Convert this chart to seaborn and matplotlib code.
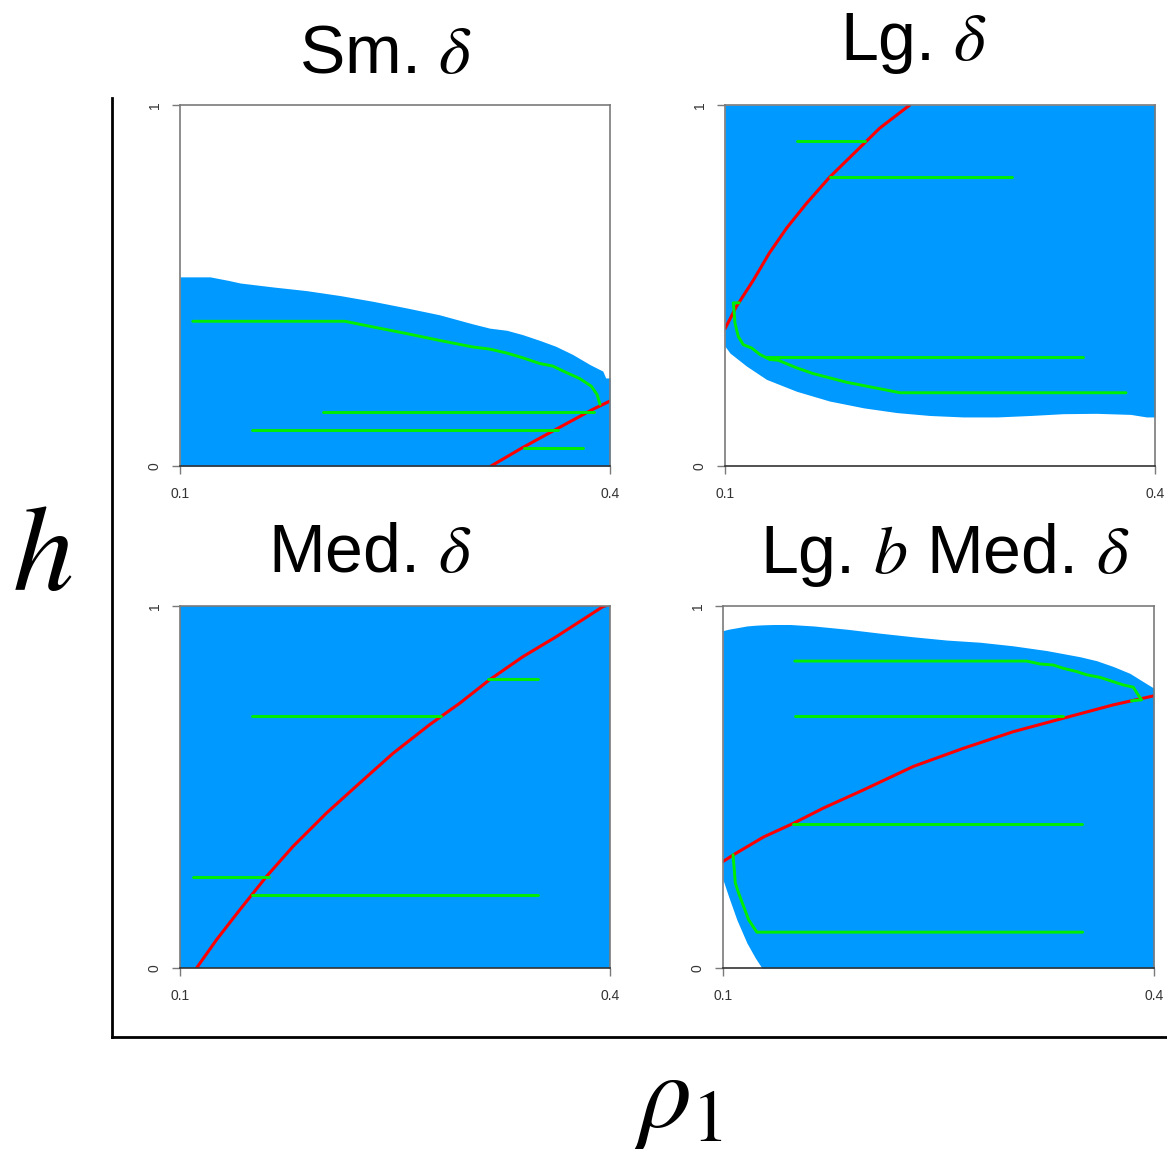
"""
Four-panel region chart: h against rho_1 for small, large and medium delta.
"""

import numpy as np
import pandas as pd
import matplotlib
matplotlib.use("Agg")
import matplotlib.pyplot as plt
import seaborn as sns

# -----------------------------
# Data
# -----------------------------

X_LIMITS = [0.1, 0.4]
Y_LIMITS = [0, 1]
X_TICKS = [0.1, 0.4]
Y_TICKS = [0, 1]
X_TICK_LABELS = ["0.1", "0.4"]
Y_TICK_LABELS = ["0", "1"]

TITLES = [r"Sm. $\delta$", r"Lg. $\delta$", r"Med. $\delta$", r"Lg. $b$ Med. $\delta$"]

# Small delta: blue region below an upper edge
SM_BLUE_X = [0.1, 0.121, 0.134, 0.142, 0.165, 0.188, 0.212, 0.235, 0.258, 0.281, 0.304,
             0.316, 0.328, 0.339, 0.351, 0.362, 0.374, 0.386, 0.395, 0.397, 0.4]
SM_BLUE_LOW = [0] * len(SM_BLUE_X)
SM_BLUE_TOP = [0.524, 0.524, 0.514, 0.507, 0.496, 0.486, 0.472, 0.456, 0.438, 0.419, 0.394,
               0.382, 0.376, 0.364, 0.348, 0.332, 0.309, 0.281, 0.263, 0.244, 0.244]
SM_RED_X = [0.317, 0.339, 0.362, 0.388, 0.4]
SM_RED_Y = [0.0, 0.051, 0.101, 0.157, 0.18]
SM_GREEN_X = [0.109, 0.215, 0.235, 0.258, 0.281, 0.304, 0.316, 0.328, 0.339, 0.351, 0.360,
              0.369, 0.379, 0.387, 0.391, 0.393]
SM_GREEN_Y = [0.401, 0.401, 0.385, 0.367, 0.348, 0.330, 0.324, 0.313, 0.300, 0.284, 0.277,
              0.260, 0.242, 0.221, 0.198, 0.171]
SM_SEG_Y = [0.151, 0.101, 0.051]
SM_SEG_X0 = [0.200, 0.150, 0.340]
SM_SEG_X1 = [0.389, 0.364, 0.381]

# Large delta: blue region above a lower edge
LG_BLUE_X = [0.1, 0.1035, 0.115, 0.129, 0.15, 0.173, 0.197, 0.22, 0.243, 0.266, 0.29,
             0.313, 0.336, 0.359, 0.383, 0.394, 0.4]
LG_BLUE_LOW = [0.332, 0.313, 0.277, 0.240, 0.207, 0.180, 0.161, 0.148, 0.140, 0.136, 0.136,
               0.140, 0.145, 0.146, 0.143, 0.136, 0.136]
LG_BLUE_TOP = [1] * len(LG_BLUE_X)
LG_RED_X = [0.1, 0.108, 0.12, 0.131, 0.143, 0.157, 0.173, 0.19, 0.208, 0.229]
LG_RED_Y = [0.38, 0.442, 0.516, 0.59, 0.659, 0.728, 0.8, 0.866, 0.936, 1.0]
LG_GREEN_X = [0.11, 0.1058, 0.1063, 0.107, 0.1093, 0.1128, 0.1186, 0.1244, 0.1314, 0.1372,
              0.15, 0.1616, 0.1733, 0.1849, 0.1965, 0.2081, 0.2221, 0.3798]
LG_GREEN_Y = [0.452, 0.452, 0.433, 0.396, 0.359, 0.336, 0.327, 0.309, 0.295, 0.293,
              0.272, 0.256, 0.244, 0.232, 0.223, 0.214, 0.203, 0.203]
LG_SEG_Y = [0.900, 0.800, 0.302]
LG_SEG_X0 = [0.150, 0.173, 0.129]
LG_SEG_X1 = [0.198, 0.300, 0.350]

# Medium delta: whole panel blue
MED_BLUE_X = [0.1, 0.4]
MED_BLUE_LOW = [0, 0]
MED_BLUE_TOP = [1, 1]
MED_RED_X = [0.1116, 0.1255, 0.1418, 0.1604, 0.1789, 0.2022, 0.2254, 0.2486, 0.2741, 0.295,
             0.3159, 0.3392, 0.3624, 0.3949, 0.4]
MED_RED_Y = [0.0, 0.078, 0.161, 0.253, 0.336, 0.428, 0.511, 0.593, 0.672, 0.731,
             0.796, 0.860, 0.915, 0.998, 1.005]
MED_GREEN_X = []
MED_GREEN_Y = []
MED_SEG_Y = [0.798, 0.696, 0.251, 0.201]
MED_SEG_X0 = [0.315, 0.150, 0.109, 0.150]
MED_SEG_X1 = [0.350, 0.282, 0.162, 0.350]

# Large b, medium delta: blue band between two edges
LGB_BLUE_X = [0.1, 0.1039, 0.1097, 0.1167, 0.1225, 0.1271, 0.1352, 0.1468, 0.1631, 0.1862,
              0.2094, 0.2326, 0.2558, 0.279, 0.3022, 0.3253, 0.3485, 0.3601, 0.3717, 0.3833,
              0.3926, 0.4]
LGB_BLUE_LOW = [0.244, 0.198, 0.133, 0.069, 0.028, 0, 0, 0, 0, 0,
                0, 0, 0, 0, 0, 0, 0, 0, 0, 0,
                0, 0]
LGB_BLUE_TOP = [0.932, 0.936, 0.940, 0.945, 0.947, 0.948, 0.949, 0.949, 0.945, 0.936,
                0.925, 0.915, 0.906, 0.900, 0.890, 0.877, 0.860, 0.849, 0.833, 0.814,
                0.791, 0.773]
LGB_RED_X = [0.1, 0.1074, 0.1283, 0.1492, 0.17, 0.1978, 0.2326, 0.2674, 0.3022, 0.3369,
             0.3717, 0.4]
LGB_RED_Y = [0.294, 0.313, 0.362, 0.400, 0.442, 0.492, 0.557, 0.607, 0.653, 0.690,
             0.727, 0.752]
LGB_GREEN_X = [0.15, 0.3114, 0.3207, 0.33, 0.3369, 0.3462, 0.3532, 0.3624, 0.3717, 0.3787,
               0.3856, 0.3891, 0.3914, 0.3844]
LGB_GREEN_Y = [0.848, 0.848, 0.840, 0.837, 0.828, 0.819, 0.810, 0.803, 0.791, 0.782,
               0.776, 0.754, 0.741, 0.738]
LGB_GREEN2_X = [0.107, 0.1079, 0.1086, 0.1109, 0.1144, 0.1179, 0.1236, 0.3504]
LGB_GREEN2_Y = [0.313, 0.271, 0.235, 0.207, 0.170, 0.133, 0.099, 0.099]
LGB_SEG_Y = [0.696, 0.398]
LGB_SEG_X0 = [0.150, 0.149]
LGB_SEG_X1 = [0.337, 0.350]

# -----------------------------
# Style
# -----------------------------

BLUE = "#0099ff"
RED = "#ff0000"
GREEN = "#00ee00"
FRAME = "#7a7a7a"
TICK_TEXT = "#333333"

sns.set_theme(style="white")
plt.rcParams["font.family"] = ["Liberation Sans", "DejaVu Sans"]
plt.rcParams["mathtext.fontset"] = "stix"
plt.rcParams["text.color"] = "black"


def green_paths(curves, seg_y, seg_x0, seg_x1) -> pd.DataFrame:
    """Long-form table of every green path, one 'seg' id per path."""
    rows = []
    seg = 0
    for xs, ys in curves:
        if len(xs) == 0:
            continue
        for x, y in zip(xs, ys):
            rows.append({"seg": seg, "x": x, "y": y})
        seg += 1
    for y, x0, x1 in zip(seg_y, seg_x0, seg_x1):
        rows.append({"seg": seg, "x": x0, "y": y})
        rows.append({"seg": seg, "x": x1, "y": y})
        seg += 1
    return pd.DataFrame(rows)


def draw_panel(ax, blue_x, blue_low, blue_top, red_x, red_y, green_df) -> None:
    ax.fill_between(blue_x, blue_low, blue_top, color=BLUE, linewidth=0, zorder=1)
    sns.lineplot(data=green_df, x="x", y="y", units="seg", estimator=None, sort=False,
                 color=GREEN, linewidth=2.1, ax=ax, zorder=3)
    sns.lineplot(x=red_x, y=red_y, sort=False, estimator=None, color=RED,
                 linewidth=2.2, ax=ax, zorder=2)

    ax.set_xlim(X_LIMITS)
    ax.set_ylim(Y_LIMITS)
    ax.set_xticks(X_TICKS, X_TICK_LABELS)
    ax.set_yticks(Y_TICKS, Y_TICK_LABELS)
    ax.set_xlabel("")
    ax.set_ylabel("")
    ax.tick_params(axis="both", direction="out", length=6, width=1.0, color=FRAME,
                   labelsize=10, labelcolor=TICK_TEXT, left=True, bottom=True)
    ax.tick_params(axis="x", pad=9)
    ax.tick_params(axis="y", pad=7, labelrotation=90)
    for label in ax.get_yticklabels():
        label.set_va("center")
    for side, spine in ax.spines.items():
        spine.set_visible(True)
        spine.set_linewidth(1.2)
        spine.set_color("#333333" if side == "bottom" else FRAME)
    ax.patch.set_alpha(0)


# -----------------------------
# Figure
# -----------------------------

fig = plt.figure(figsize=(11.67, 11.59), dpi=100)

# outer L-shaped frame behind the panels
frame = fig.add_axes([0.0964, 0.1053, 0.95, 0.8101], zorder=0)
frame.set_xticks([])
frame.set_yticks([])
frame.patch.set_alpha(0)
for side in ["top", "right"]:
    frame.spines[side].set_visible(False)
for side in ["left", "bottom"]:
    frame.spines[side].set_visible(True)
    frame.spines[side].set_color("black")
    frame.spines[side].set_linewidth(2.0)

positions = [
    [0.1542, 0.5979, 0.3685, 0.3115],
    [0.6212, 0.5979, 0.3685, 0.3115],
    [0.1542, 0.1648, 0.3685, 0.3123],
    [0.6195, 0.1648, 0.3693, 0.3123],
]

panels = [
    (SM_BLUE_X, SM_BLUE_LOW, SM_BLUE_TOP, SM_RED_X, SM_RED_Y,
     green_paths([(SM_GREEN_X, SM_GREEN_Y)], SM_SEG_Y, SM_SEG_X0, SM_SEG_X1)),
    (LG_BLUE_X, LG_BLUE_LOW, LG_BLUE_TOP, LG_RED_X, LG_RED_Y,
     green_paths([(LG_GREEN_X, LG_GREEN_Y)], LG_SEG_Y, LG_SEG_X0, LG_SEG_X1)),
    (MED_BLUE_X, MED_BLUE_LOW, MED_BLUE_TOP, MED_RED_X, MED_RED_Y,
     green_paths([(MED_GREEN_X, MED_GREEN_Y)], MED_SEG_Y, MED_SEG_X0, MED_SEG_X1)),
    (LGB_BLUE_X, LGB_BLUE_LOW, LGB_BLUE_TOP, LGB_RED_X, LGB_RED_Y,
     green_paths([(LGB_GREEN_X, LGB_GREEN_Y), (LGB_GREEN2_X, LGB_GREEN2_Y)],
                 LGB_SEG_Y, LGB_SEG_X0, LGB_SEG_X1)),
]

for pos, args in zip(positions, panels):
    ax = fig.add_axes(pos, zorder=2)
    draw_panel(ax, *args)

# panel titles
title_pos = [(0.330, 0.937), (0.783, 0.948), (0.317, 0.5065), (0.810, 0.5056)]
for (tx, ty), title in zip(title_pos, TITLES):
    fig.text(tx, ty, title, ha="center", va="baseline", fontsize=49, color="black")

# shared axis labels
fig.text(0.036, 0.491, r"$h$", ha="center", va="baseline", fontsize=88, color="black")
fig.text(0.581, 0.028, r"$\rho_1$", ha="center", va="baseline", fontsize=76, color="black")

fig.savefig("out.png", dpi=100)
